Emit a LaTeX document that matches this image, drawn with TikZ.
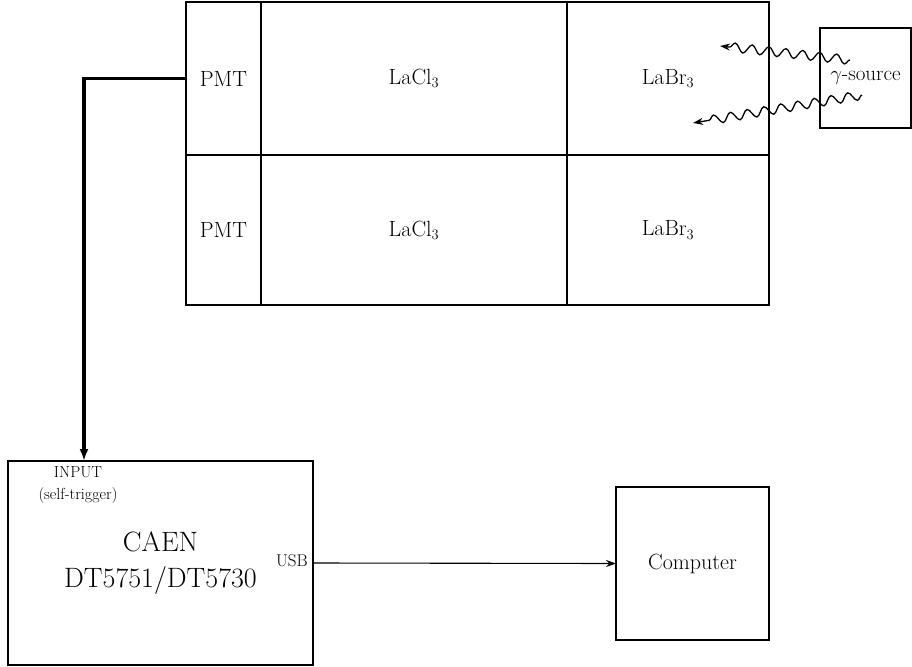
\documentclass[tikz,border=0pt]{standalone}
\usetikzlibrary{arrows.meta,decorations.pathmorphing}
\begin{document}
\begin{tikzpicture}[x=1pt,y=-1pt,
  box/.style={draw, line width=1.4pt, anchor=north west, inner sep=0pt, outer sep=0pt},
  cell/.style={box, font=\fontsize{22}{26}\selectfont},
  wave/.style={line width=1.3pt, -{Stealth[length=10pt,width=7pt]}, decorate,
    decoration={snake, amplitude=4.5pt, segment length=17pt, post length=9pt}},
  wire/.style={line width=3.2pt, -{Latex[length=12pt,width=9pt]}},
  link/.style={line width=1.1pt, -{Stealth[length=10pt,width=7pt]}}]
\useasboundingbox (0,0) rectangle (912,666);
% detector cells
\node[cell, minimum width=75pt, minimum height=153pt] (pmt1) at (186,2) {PMT};
\node[cell, minimum width=306pt, minimum height=153pt] (lacl1) at (261,2) {LaCl$_3$};
\node[cell, minimum width=202pt, minimum height=153pt] (labr1) at (567,2) {LaBr$_3$};
\node[cell, minimum width=75pt, minimum height=150pt] (pmt2) at (186,155) {PMT};
\node[cell, minimum width=306pt, minimum height=150pt] (lacl2) at (261,155) {LaCl$_3$};
\node[cell, minimum width=202pt, minimum height=150pt] (labr2) at (567,155) {LaBr$_3$};
% source
\node[cell, minimum width=91pt, minimum height=100pt, font=\fontsize{21}{25}\selectfont] (src) at (820,28) {$\gamma$-source};
% gamma rays
\coordinate (g1s) at (850,60); \coordinate (g1e) at (720,46);
\coordinate (g2s) at (862,95); \coordinate (g2e) at (693,123);
\draw[wave] (g1s) -- (g1e);
\draw[wave] (g2s) -- (g2e);
% digitizer
\node[box, minimum width=305pt, minimum height=204pt] (caen) at (8,461) {};
\node[font=\fontsize{28}{36}\selectfont, align=center] (caenlbl) at (caen.center) {CAEN\\DT5751/DT5730};
\node[font=\fontsize{16}{22}\selectfont, align=center, anchor=north, inner sep=0pt] (inp)
  at ([xshift=70pt, yshift=-5pt]caen.north west) {INPUT\\(self-trigger)};
\node[font=\fontsize{17}{20}\selectfont, anchor=east, inner sep=0pt] (usb)
  at ([xshift=-5pt, yshift=2pt]caen.east) {USB};
% computer
\node[cell, minimum width=153pt, minimum height=153pt] (comp) at (616,487) {Computer};
% connectors
\draw[wire] (pmt1.west) -| ([xshift=76pt]caen.north west);
\draw[link] (caen.east) -- (comp.west);
\end{tikzpicture}
\end{document}
